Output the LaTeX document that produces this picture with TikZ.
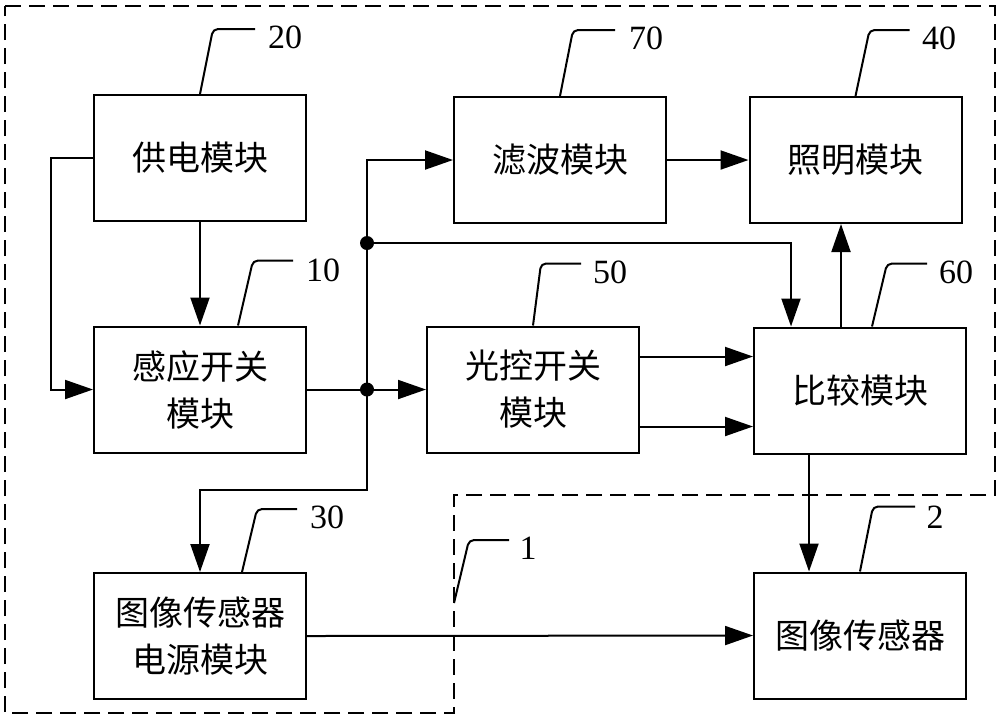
\documentclass[tikz,border=0pt]{standalone}
\usepackage{fontspec}
\setmainfont{Liberation Serif}
\newfontfamily\cjk{Noto Sans CJK SC}
\usetikzlibrary{arrows.meta}
\begin{document}
\begin{tikzpicture}[x=0.5pt,y=-0.5pt,
  box/.style={draw,line width=1pt,minimum width=106pt,minimum height=63pt,inner sep=0pt,align=center,font=\cjk\fontsize{17pt}{23.5pt}\selectfont},
  arr/.style={line width=1pt,-{Triangle[length=14pt,width=9.5pt]}},
  wire/.style={line width=1pt},
  lead/.style={line width=1pt,rounded corners=2.5pt},
  num/.style={inner sep=0pt,font=\fontsize{17pt}{20pt}\selectfont},
  outline/.style={line width=1pt,dash pattern=on 8pt off 4pt},
  dot/.style={circle,fill,inner sep=0pt,minimum size=7pt}]
\useasboundingbox (0,0) rectangle (1000,720);
% dashed outline of unit 1
\draw[outline] (5,6) -- (995,6) -- (995,495) -- (454,495) -- (454,713) -- (5,713) -- cycle;
% boxes
\node[box] (n20) at (200,158) {供电模块};
\node[box] (n10) at (200,389.5) {感应开关\\模块};
\node[box] (n30) at (200,636) {图像传感器\\电源模块};
\node[box] (n70) at (560,160) {滤波模块};
\node[box] (n40) at (855.5,160) {照明模块};
\node[box] (n50) at (533,389.5) {光控开关\\模块};
\node[box] (n60) at (860,390.5) {比较模块};
\node[box] (n2) at (860,635.5) {图像传感器};
% junctions
\coordinate (j1) at (367,389.5);
\coordinate (j2) at (367,243);
\coordinate (jb) at (367,490);
% connectors
\draw[arr] (n20.south) -- (n10.north);
\draw[arr] (n20.west) -- ++(-42,0) |- (n10.west);
\draw[arr] (n10.east) -- (n50.west);
\draw[arr] (j1) |- (n70.west);
\draw[arr] (j1) -- (jb) -| (n30.north);
\draw[arr] (j2) -| ([xshift=-34.5pt]n60.north);
\draw[arr] (n70.east) -- (n40.west);
\draw[arr] ([xshift=-9.5pt]n60.north) -- ([xshift=-9.5pt]n60.north |- n40.south);
\draw[arr] ([yshift=16.5pt]n50.east) -- ([yshift=16.5pt]n50.east -| n60.west);
\draw[arr] ([yshift=-18.5pt]n50.east) -- ([yshift=-18.5pt]n50.east -| n60.west);
\draw[arr] ([xshift=-25.5pt]n60.south) -- ([xshift=-25.5pt]n2.north);
\draw[arr] (n30.east) -- (n2.west);
\node[dot] (d1) at (j1) {};
\node[dot] (d2) at (j2) {};
% leader lines and labels
\draw[lead] (n20.north) -- ++(13,-65) -- ++(42,0);
\node[num] (l20) at (285,37) {20};
\draw[lead] ([xshift=19pt]n10.north) -- ++(15,-65) -- ++(40,0);
\node[num] (l10) at (323,270) {10};
\draw[lead] ([xshift=21pt]n30.north) -- ++(15,-63) -- ++(40,0);
\node[num] (l30) at (327,517) {30};
\draw[lead] (n70.north) -- ++(13,-66) -- ++(42,0);
\node[num] (l70) at (646,38) {70};
\draw[lead] (n40.north) -- ++(14,-66) -- ++(40,0);
\node[num] (l40) at (939,38) {40};
\draw[lead] (n50.north) -- ++(8,-62) -- ++(40,0);
\node[num] (l50) at (610,272) {50};
\draw[lead] ([xshift=6pt]n60.north) -- ++(15,-63) -- ++(40,0);
\node[num] (l60) at (956,272) {60};
\draw[lead] (n2.north) -- ++(13,-65) -- ++(42,0);
\node[num] (l2) at (935,517) {2};
\coordinate (o1) at (454,603);
\draw[lead] (o1) -- ++(15,-63) -- ++(40,0);
\node[num] (l1) at (528,548) {1};
\end{tikzpicture}
\end{document}
